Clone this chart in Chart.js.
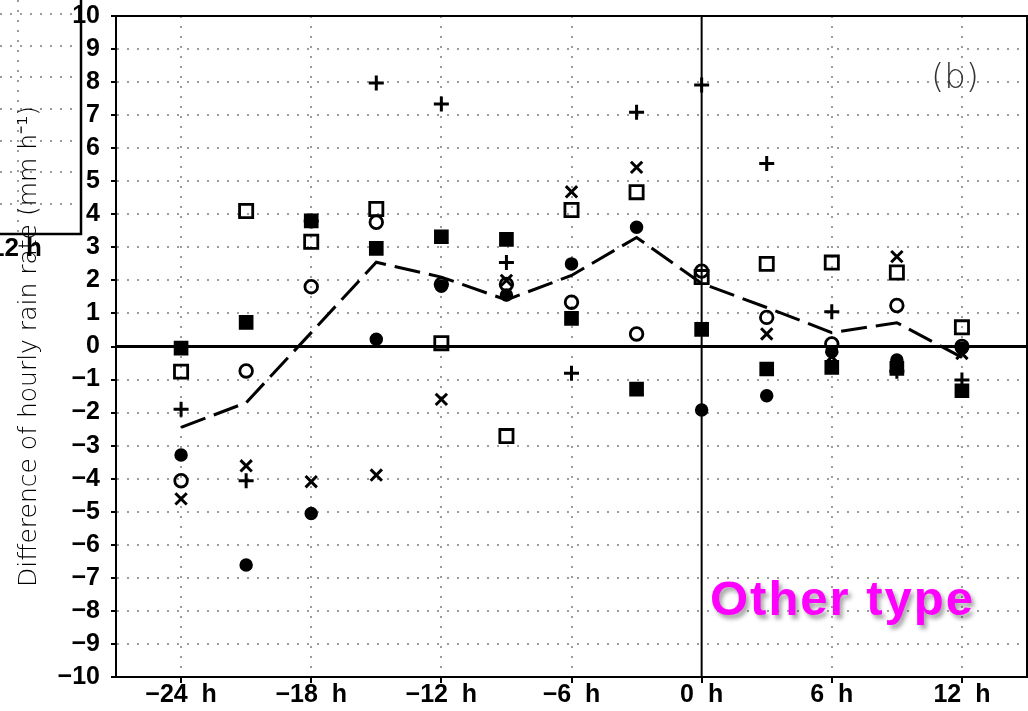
<!DOCTYPE html>
<html>
<head>
<meta charset="utf-8">
<script src="https://cdn.jsdelivr.net/npm/chart.js@4.4.1/dist/chart.umd.min.js"></script>
<style>
  html, body { margin: 0; padding: 0; background: #fff; }
</style>
</head>
<body>
<canvas id="rain-chart" width="1028" height="711"></canvas>
<script>
// hours relative to event time (every 3 h)
const hours = [-24, -21, -18, -15, -12, -9, -6, -3, 0, 3, 6, 9, 12];
const xTickValues = [-24, -18, -12, -6, 0, 6, 12];

// difference of hourly rain rate (mm h-1), one array per marker type
const filledCircle = [-3.28, -6.61, -5.05, 0.22, 1.82, 1.56, 2.50, 3.61, -1.92, -1.49, -0.16, -0.41, -0.05];
const openCircle   = [-4.06, -0.74, 1.81, 3.76, 1.88, 1.88, 1.34, 0.38, 2.28, 0.88, 0.08, 1.24, 0.00];
const filledSquare = [-0.05, 0.73, 3.80, 2.97, 3.32, 3.24, 0.85, -1.29, 0.52, -0.68, -0.63, -0.66, -1.34];
const openSquare   = [-0.76, 4.10, 3.17, 4.16, 0.10, -2.71, 4.13, 4.67, 2.10, 2.50, 2.54, 2.24, 0.58];
const plusMarks    = [-1.90, -4.06, 3.80, 7.97, 7.34, 2.54, -0.81, 7.09, 7.91, 5.54, 1.05, -0.75, -1.01];
const crossMarks   = [-4.61, -3.61, -4.09, -3.89, -1.60, 2.00, 4.68, 5.42, 0.55, 0.38, -0.31, 2.72, -0.21];
const meanLine     = [-2.45, -1.70, 0.42, 2.55, 2.10, 1.41, 2.15, 3.30, 1.91, 1.18, 0.42, 0.72, -0.33];

const toPoints = values => hours.map((h, i) => ({ x: h, y: values[i] }));
const minusSign = v => (v < 0 ? "\u2212" + Math.abs(v) : String(v));

const tickFont = { family: "'Liberation Sans', Arial, sans-serif", weight: "bold", size: 25 };
const gridColor = ctx => (ctx.tick && ctx.tick.value === 0 ? "rgba(0,0,0,0)" : "#9c9c9c");

function markerSet(label, data, style, radius, filled, width, order) {
  return {
    label: label,
    data: toPoints(data),
    pointStyle: style,
    pointRadius: radius,
    pointHoverRadius: radius,
    pointBorderWidth: width,
    pointBorderColor: "#000",
    pointBackgroundColor: filled ? "#000" : "rgba(0,0,0,0)",
    showLine: false,
    order: order
  };
}

// white box of the neighbouring panel that overlaps the top-left corner
const cornerPanel = {
  id: "cornerPanel",
  beforeDraw(chart) {
    const ctx = chart.ctx;
    ctx.save();
    ctx.fillStyle = "#fff";
    ctx.fillRect(0, 0, chart.width, chart.height);
    ctx.strokeStyle = "#9c9c9c";
    ctx.lineWidth = 2;
    ctx.setLineDash([2, 8]);
    [14, 46, 77, 109, 141, 172, 204].forEach(y => {
      ctx.beginPath();
      ctx.moveTo(0, y);
      ctx.lineTo(80, y);
      ctx.stroke();
    });
    ctx.beginPath();
    ctx.moveTo(18, 0);
    ctx.lineTo(18, 233);
    ctx.stroke();
    ctx.setLineDash([]);
    ctx.strokeStyle = "#000";
    ctx.lineWidth = 2.5;
    ctx.beginPath();
    ctx.moveTo(81, 0);
    ctx.lineTo(81, 234);
    ctx.lineTo(0, 234);
    ctx.stroke();
    ctx.fillStyle = "#000";
    ctx.font = "bold 26px 'Liberation Sans', Arial, sans-serif";
    ctx.textAlign = "right";
    ctx.fillText("12", 19, 256);
    ctx.textAlign = "left";
    ctx.fillText("h", 26, 256);
    ctx.restore();
  }
};

// solid zero lines drawn under the markers
const zeroLines = {
  id: "zeroLines",
  beforeDatasetsDraw(chart) {
    const { ctx, chartArea, scales } = chart;
    const y0 = scales.y.getPixelForValue(0);
    const x0 = scales.x.getPixelForValue(0);
    ctx.save();
    ctx.strokeStyle = "#000";
    ctx.lineWidth = 2.8;
    ctx.beginPath();
    ctx.moveTo(chartArea.left, y0);
    ctx.lineTo(chartArea.right, y0);
    ctx.stroke();
    ctx.lineWidth = 2;
    ctx.beginPath();
    ctx.moveTo(x0, chartArea.top);
    ctx.lineTo(x0, chartArea.bottom);
    ctx.stroke();
    ctx.restore();
  }
};

// frame and panel labels
const frameAndLabels = {
  id: "frameAndLabels",
  afterDraw(chart) {
    const { ctx, chartArea } = chart;
    ctx.save();
    ctx.strokeStyle = "#000";
    ctx.lineWidth = 2;
    ctx.strokeRect(chartArea.left, chartArea.top, chartArea.right - chartArea.left, chartArea.bottom - chartArea.top);

    ctx.fillStyle = "#333";
    ctx.font = "200 34px 'DejaVu Sans', sans-serif";
    ctx.textAlign = "center";
    ctx.textBaseline = "middle";
    ctx.fillText("(b)", 955, 79);

    ctx.textAlign = "left";
    ctx.textBaseline = "alphabetic";
    ctx.font = "bold 49px 'Liberation Sans', Arial, sans-serif";
    ctx.letterSpacing = "2px";
    ctx.shadowColor = "rgba(0,0,0,0.35)";
    ctx.shadowOffsetX = 3;
    ctx.shadowOffsetY = 4;
    ctx.shadowBlur = 4;
    ctx.fillStyle = "#ff00ff";
    ctx.fillText("Other type", 710, 615);
    ctx.restore();
  }
};

const chartCanvas = document.getElementById("rain-chart").getContext("2d");

new Chart(chartCanvas, {
  type: "scatter",
  data: {
    datasets: [
      {
        label: "Mean",
        data: toPoints(meanLine),
        showLine: true,
        borderColor: "#000",
        borderWidth: 3,
        borderDash: [26, 9],
        pointRadius: 0,
        pointHoverRadius: 0,
        fill: false,
        tension: 0,
        order: 0
      },
      markerSet("Filled circle", filledCircle, "circle", 5.5, true, 2.5, 1),
      markerSet("Open circle", openCircle, "circle", 6.3, false, 2.8, 2),
      markerSet("Filled square", filledSquare, "rect", 8.6, true, 2.5, 3),
      markerSet("Open square", openSquare, "rect", 9.3, false, 2.8, 4),
      markerSet("Cross", crossMarks, "crossRot", 8, false, 3, 5),
      markerSet("Plus", plusMarks, "cross", 7.5, false, 3, 6)
    ]
  },
  options: {
    responsive: false,
    animation: false,
    layout: { autoPadding: false, padding: { left: 0, top: 16, right: 1, bottom: 0 } },
    plugins: {
      legend: { display: false },
      tooltip: { enabled: false }
    },
    scales: {
      x: {
        type: "linear",
        min: -27,
        max: 15,
        afterBuildTicks: scale => {
          scale.ticks = xTickValues.map(v => ({ value: v }));
        },
        afterFit: scale => {
          scale.height = 34;
          scale.paddingLeft = 0;
          scale.paddingRight = 0;
        },
        ticks: {
          autoSkip: false,
          maxRotation: 0,
          padding: -3,
          color: "#000",
          font: tickFont,
          callback: v => minusSign(v) + "  h"
        },
        grid: {
          color: gridColor,
          lineWidth: 2,
          tickLength: 6,
          tickColor: "#000",
          tickWidth: 2
        },
        border: { color: "#000", width: 2, dash: [2, 8] }
      },
      y: {
        min: -10,
        max: 10,
        afterFit: scale => {
          scale.width = 116;
          scale.paddingTop = 0;
          scale.paddingBottom = 0;
        },
        ticks: {
          stepSize: 1,
          padding: 11,
          color: "#000",
          font: tickFont,
          callback: v => minusSign(v)
        },
        grid: {
          color: gridColor,
          lineWidth: 2,
          tickLength: 5,
          tickColor: "#000",
          tickWidth: 2
        },
        border: { color: "#000", width: 2, dash: [2, 8] },
        title: {
          display: true,
          text: "Difference of hourly rain rate (mm h\u207B\u00B9)",
          color: "#000",
          font: { family: "'DejaVu Sans', sans-serif", weight: "200", size: 25 },
          padding: { top: 14, bottom: 0 }
        }
      }
    }
  },
  plugins: [cornerPanel, zeroLines, frameAndLabels]
});
</script>
</body>
</html>
